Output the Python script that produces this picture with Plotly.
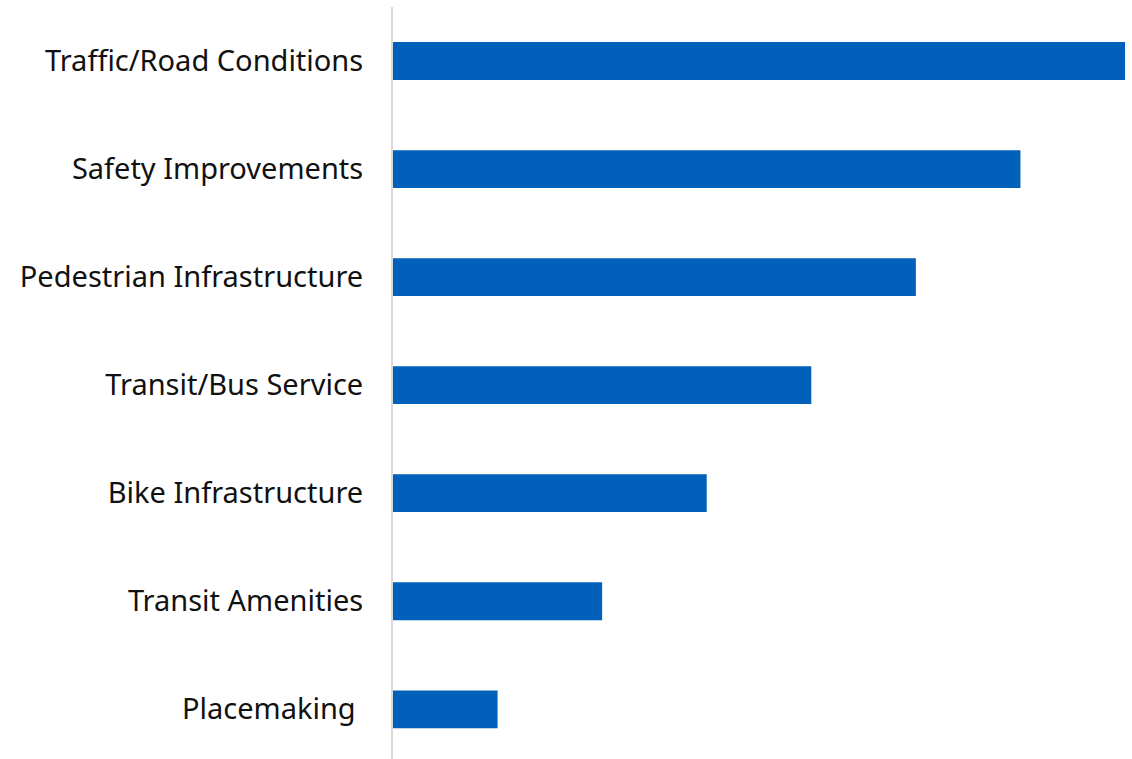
import plotly.graph_objects as go

categories = ["Traffic/Road Conditions", "Safety Improvements", "Pedestrian Infrastructure",
              "Transit/Bus Service", "Bike Infrastructure", "Transit Amenities", "Placemaking "]
values = [7, 6, 5, 4, 3, 2, 1]

fig = go.Figure(go.Bar(
    x=values, y=categories, orientation="h",
    marker=dict(color="#0060BA", line=dict(width=0)),
    width=0.35, hoverinfo="x+y",
))

fig.update_layout(
    width=1132, height=759,
    margin=dict(l=393, r=7, t=7, b=0),
    paper_bgcolor="white", plot_bgcolor="white",
    showlegend=False,
    font=dict(family="Noto Sans", size=29, color="#111111"),
)
fig.update_xaxes(range=[0, 7], visible=False, showgrid=False, zeroline=False)
fig.update_yaxes(
    categoryorder="array", categoryarray=categories,
    range=[6.46, -0.5],
    showline=True, linecolor="#D9D9D9", linewidth=2,
    showgrid=False, zeroline=False, ticks="",
    ticklabelstandoff=22,
    tickfont=dict(family="Noto Sans", size=29, color="#111111"),
)

fig.write_html("out.html", config={"displayModeBar": False},
               post_script="document.body.style.margin='0';document.body.style.overflow='hidden';")
